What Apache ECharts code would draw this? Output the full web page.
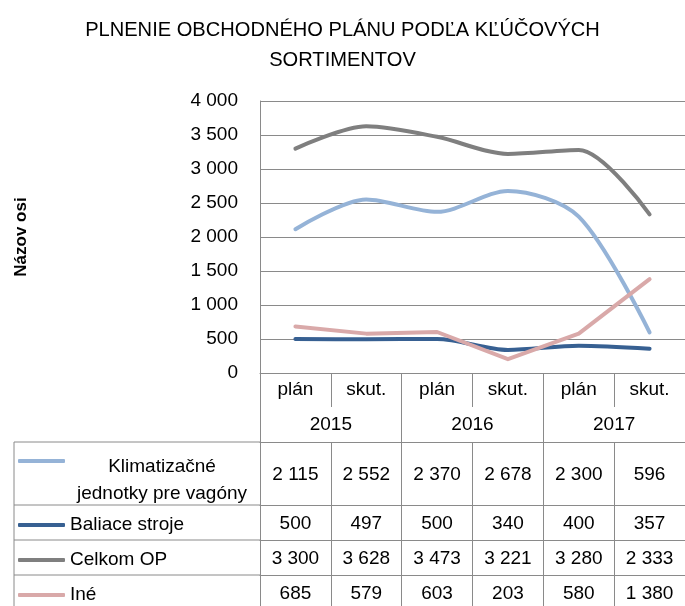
<!DOCTYPE html>
<html><head><meta charset="utf-8">
<script src="https://cdn.jsdelivr.net/npm/echarts@6/dist/echarts.min.js"></script>
<style>html,body{margin:0;padding:0;background:#fff}#c{width:685px;height:606px}</style>
</head><body><div id="c"></div>
<script>
// ---- data ----
const categories = ['plán', 'skut.', 'plán', 'skut.', 'plán', 'skut.'];
const years = ['2015', '2016', '2017'];
const seriesNames = ['Klimatizačné jednotky pre vagóny', 'Baliace stroje', 'Celkom OP', 'Iné'];
const klimatizacne = [2115, 2552, 2370, 2678, 2300, 596];
const baliace = [500, 497, 500, 340, 400, 357];
const celkom = [3300, 3628, 3473, 3221, 3280, 2333];
const ine = [685, 579, 603, 203, 580, 1380];
const yMin = 0, yMax = 4000, yInterval = 500;
const titleText = 'PLNENIE OBCHODNÉHO PLÁNU PODĽA KĽÚČOVÝCH\nSORTIMENTOV';
const yAxisName = 'Názov osi';

// ---- style / layout ----
const values = [klimatizacne, baliace, celkom, ine];
const smoothing = [0.3, 0.3, 0.3, false];
const colors = ['#95B3D7', '#376092', '#7F7F7F', '#D9A9A9'];
const fmt = v => String(v).replace(/\B(?=(\d{3})+(?!\d))/g, ' ');
const FONT = "'Liberation Sans', Arial, sans-serif";
const FS = 19;
const LINE = '#8a8a8a';
const G = { left: 260, top: 101, width: 427, height: 272 };
const axisY = G.top + G.height;
const catRowH = 34, yearRowsH = 69;
const rowHeights = [63, 35, 35, 35];
const rowTops = [];
{ let t = axisY + yearRowsH; rowHeights.forEach(h => { rowTops.push(t); t += h; }); }
const tableLeft = 14;

const lbl = (margin) => ({ interval: 0, margin, verticalAlign: 'middle', fontSize: FS, color: '#000', fontFamily: FONT });
const xAxes = [
  { type: 'category', data: categories, gridIndex: 0, position: 'bottom', offset: 0,
    axisLine: { show: true, lineStyle: { color: LINE, width: 1 } },
    axisTick: { show: true, interval: 0, length: catRowH, lineStyle: { color: LINE } },
    axisLabel: lbl(catRowH / 2) },
  { type: 'category', data: years, gridIndex: 0, position: 'bottom', offset: 0,
    axisLine: { show: false },
    axisTick: { show: true, interval: 0, length: yearRowsH, lineStyle: { color: LINE } },
    axisLabel: lbl(catRowH + (yearRowsH - catRowH) / 2) }
];
values.forEach((arr, i) => {
  xAxes.push({ type: 'category', data: arr.map(fmt), gridIndex: 0, position: 'bottom',
    offset: rowTops[i] - axisY,
    axisLine: { show: true, lineStyle: { color: LINE, width: 1 } },
    axisTick: { show: true, interval: 0, length: rowHeights[i], lineStyle: { color: LINE } },
    axisLabel: lbl(rowHeights[i] / 2 + 1) });
});

const graphics = [
  { type: 'line', shape: { x1: tableLeft, y1: rowTops[0], x2: tableLeft, y2: 606 }, style: { stroke: LINE, lineWidth: 1 } }
];
rowTops.forEach(t => graphics.push({ type: 'line', shape: { x1: tableLeft, y1: t, x2: G.left, y2: t }, style: { stroke: LINE, lineWidth: 1 } }));
graphics.push({ type: 'text', x: 162, y: rowTops[0] + 38, style: {
  text: seriesNames[0].replace(' ', '\n'), align: 'center', verticalAlign: 'middle',
  lineHeight: 27, fontSize: FS, fill: '#000', fontFamily: FONT } });

const legends = seriesNames.map((n, i) => ({
  data: [n], left: 18,
  top: i === 0 ? rowTops[0] + 17 : rowTops[i] + rowHeights[i] / 2 - 7,
  padding: 0, itemWidth: 47, itemHeight: 4,
  icon: 'roundRect', selectedMode: false,
  formatter: i === 0 ? (() => '') : '{name}',
  textStyle: { fontSize: FS, color: '#000', fontFamily: FONT }
}));

const chart = echarts.init(document.getElementById('c'), null, { renderer: 'canvas' });
chart.setOption({
  backgroundColor: '#fff',
  animation: false,
  color: colors,
  textStyle: { fontFamily: FONT },
  title: { text: titleText, left: 'center', top: 10, padding: [5, 5, 5, 13],
    textStyle: { fontSize: 20.1, fontWeight: 'normal', color: '#000', lineHeight: 30, fontFamily: FONT } },
  grid: { left: G.left, top: G.top, width: G.width, height: G.height, containLabel: false },
  legend: legends,
  xAxis: xAxes,
  yAxis: { type: 'value', min: yMin, max: yMax, interval: yInterval,
    name: yAxisName, nameLocation: 'middle', nameGap: 230, nameRotate: 90,
    nameTextStyle: { fontSize: 17, fontWeight: 'bold', color: '#000', fontFamily: FONT },
    axisLine: { show: true, lineStyle: { color: LINE } },
    axisTick: { show: false },
    axisLabel: { formatter: fmt, fontSize: FS, color: '#000', margin: 22, fontFamily: FONT },
    splitLine: { show: true, lineStyle: { color: LINE, width: 1 } } },
  graphic: graphics,
  series: values.map((arr, i) => ({
    name: seriesNames[i], type: 'line', data: arr, xAxisIndex: 0, yAxisIndex: 0,
    smooth: smoothing[i], symbol: 'none', lineStyle: { width: 4, color: colors[i], cap: 'round', join: 'round' },
    itemStyle: { color: colors[i] }
  }))
});
</script></body></html>
